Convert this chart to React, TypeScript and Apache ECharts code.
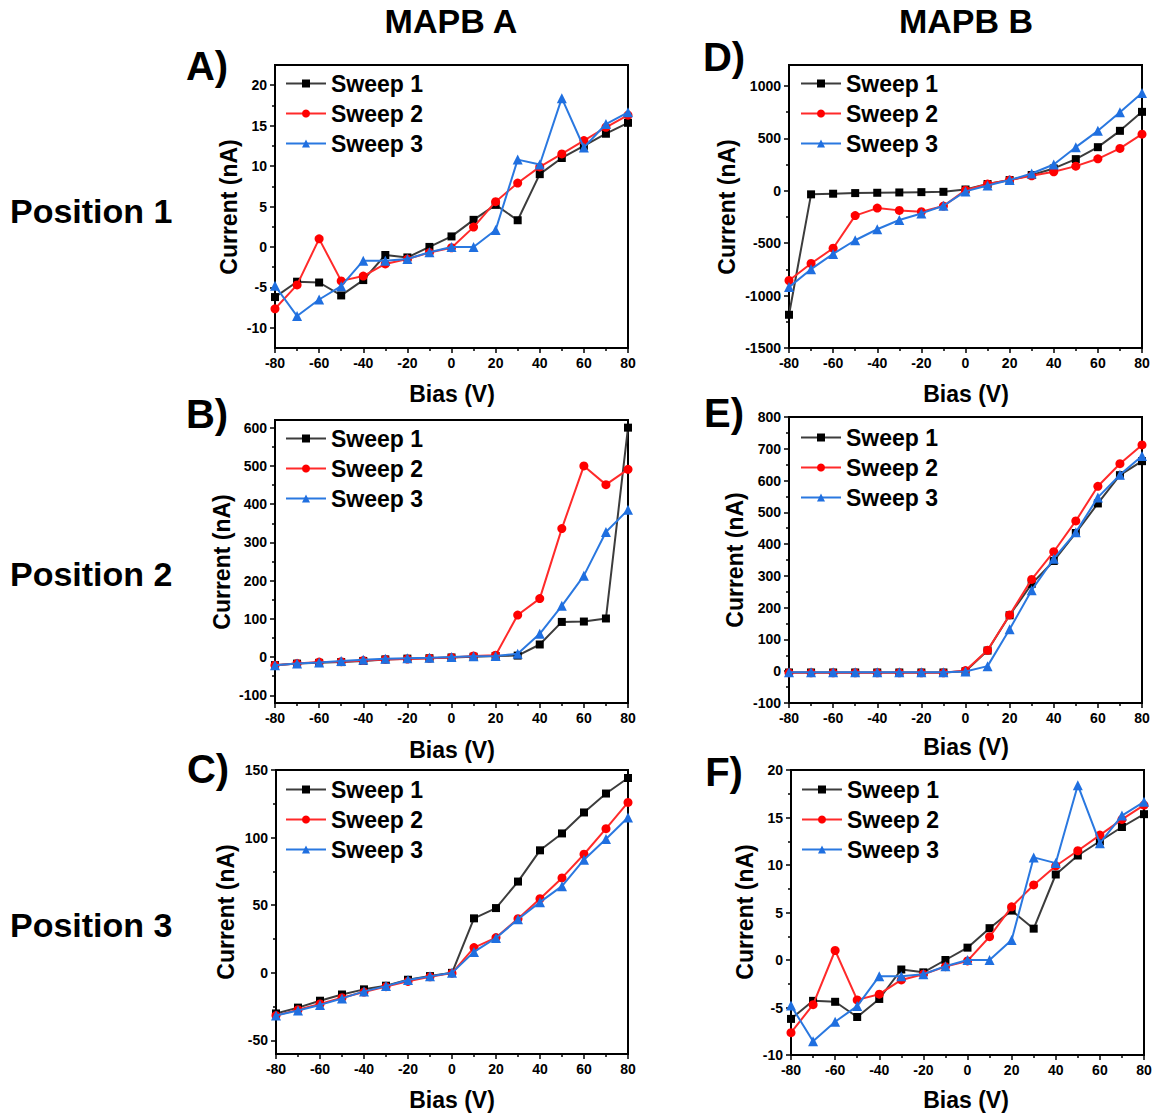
import React, { useEffect, useRef } from "react";
import * as echarts from "echarts";

const BIAS = [-80, -70, -60, -50, -40, -30, -20, -10, 0, 10, 20, 30, 40, 50, 60, 70, 80];
const SWEEP_NAMES = ["Sweep 1", "Sweep 2", "Sweep 3"];
const COLUMN_TITLES = ["MAPB A", "MAPB B"];
const ROW_TITLES = ["Position 1", "Position 2", "Position 3"];

// Panel A (MAPB A, Position 1)
const A_SWEEP1 = [-6.2, -4.3, -4.4, -6.0, -4.1, -1.0, -1.3, 0.0, 1.3, 3.35, 5.2, 3.3, 9.0, 11.0, 12.5, 14.0, 15.35];
const A_SWEEP2 = [-7.65, -4.7, 1.0, -4.2, -3.6, -2.1, -1.5, -0.7, -0.1, 2.45, 5.6, 7.9, 9.9, 11.5, 13.15, 14.8, 16.3];
const A_SWEEP3 = [-4.8, -8.55, -6.5, -4.85, -1.7, -1.7, -1.5, -0.65, 0.0, 0.0, 2.1, 10.8, 10.2, 18.4, 12.3, 15.2, 16.65];

// Panel B (MAPB A, Position 2)
const B_SWEEP1 = [-21, -17, -15, -13, -10, -6, -4, -3, -1, 1, 3, 4, 33, 92, 93, 101, 600];
const B_SWEEP2 = [-21, -17, -13, -12, -9, -6, -5, -3, -1, 3, 5, 110, 153, 336, 500, 451, 491];
const B_SWEEP3 = [-21, -17, -14, -10, -7, -4, -3, -2, 0, 2, 3, 9, 61, 134, 213, 327, 385];

// Panel C (MAPB A, Position 3)
const C_SWEEP1 = [-30, -25.7, -20.6, -16, -12.2, -9.5, -5.1, -2.4, 0, 40.3, 47.9, 67.5, 90.6, 103.1, 118.6, 132.6, 144.1];
const C_SWEEP2 = [-31.6, -27.2, -23, -18.4, -14.2, -10.2, -6.3, -2.9, -0.2, 18.7, 26.1, 40.1, 54.8, 70.2, 87.7, 106.6, 126];
const C_SWEEP3 = [-31.6, -27.9, -23.7, -18.9, -13.7, -9.8, -5.3, -2.6, 0, 15.5, 25.8, 39.6, 52.3, 64.1, 83.7, 99, 114.9];

// Panel D (MAPB B, Position 1)
const D_SWEEP1 = [-1183, -34, -28, -22, -19, -16, -13, -10, 12, 64, 102, 150, 213, 302, 416, 572, 753];
const D_SWEEP2 = [-856, -694, -548, -237, -165, -187, -200, -146, 6, 64, 102, 143, 181, 235, 305, 404, 540];
const D_SWEEP3 = [-919, -748, -602, -472, -367, -279, -216, -143, -6, 51, 102, 165, 251, 416, 572, 749, 933];

// Panel E (MAPB B, Position 2)
const E_SWEEP1 = [-4, -4, -4, -4, -4, -4, -4, -4, 0, 65, 176, 275, 347, 435, 528, 617, 661];
const E_SWEEP2 = [-5, -5, -5, -5, -5, -5, -5, -5, 2, 66, 177, 289, 376, 473, 582, 653, 712];
const E_SWEEP3 = [-3, -3, -3, -3, -3, -3, -3, -3, -1, 16, 132, 255, 354, 437, 547, 618, 677];

// Panel F (MAPB B, Position 3)
const F_SWEEP1 = [-6.2, -4.3, -4.4, -6.0, -4.1, -1.0, -1.3, 0.0, 1.3, 3.35, 5.2, 3.3, 9.0, 11.0, 12.5, 14.0, 15.35];
const F_SWEEP2 = [-7.65, -4.7, 1.0, -4.2, -3.6, -2.1, -1.5, -0.7, -0.1, 2.45, 5.6, 7.9, 9.9, 11.5, 13.15, 14.8, 16.3];
const F_SWEEP3 = [-4.8, -8.55, -6.5, -4.85, -1.7, -1.7, -1.5, -0.65, 0.0, 0.0, 2.1, 10.8, 10.2, 18.4, 12.3, 15.2, 16.65];

// y axis extents and tick ranges per panel: [plotMin, plotMax, tickMin, tickMax, tickStep]
const A_Y = [-12.5, 22.5, -10, 20, 5];
const B_Y = [-120, 620, -100, 600, 100];
const C_Y = [-60, 150, -50, 150, 50];
const D_Y = [-1500, 1200, -1500, 1000, 500];
const E_Y = [-100, 800, -100, 800, 100];
const F_Y = [-10, 20, -10, 20, 5];

const FONT = '"Liberation Sans", Arial, Helvetica, sans-serif';
const LINE_COLORS = ["#3c3c3c", "#ff2a2a", "#2a78e0"];
const MARK_COLORS = ["#000000", "#ff0000", "#1f6fe0"];
const SYMBOLS = ["rect", "circle", "triangle"];
const SYMBOL_SIZES = [8, 9, 10];

const PANELS = [
  { label: "A)", sweeps: [A_SWEEP1, A_SWEEP2, A_SWEEP3], y: A_Y, left: 275, top: 65, width: 353, height: 283,
    labelPos: [207, 66], titlePos: [229, 207], biasPos: [452, 394], legendPos: [285, 72] },
  { label: "B)", sweeps: [B_SWEEP1, B_SWEEP2, B_SWEEP3], y: B_Y, left: 275, top: 420, width: 353, height: 283,
    labelPos: [207, 414], titlePos: [222, 562], biasPos: [452, 750], legendPos: [285, 427] },
  { label: "C)", sweeps: [C_SWEEP1, C_SWEEP2, C_SWEEP3], y: C_Y, left: 276, top: 770, width: 352, height: 284,
    labelPos: [208, 769], titlePos: [226, 912], biasPos: [452, 1100], legendPos: [285, 778] },
  { label: "D)", sweeps: [D_SWEEP1, D_SWEEP2, D_SWEEP3], y: D_Y, left: 789, top: 65, width: 353, height: 283,
    labelPos: [724, 57], titlePos: [727, 207], biasPos: [966, 394], legendPos: [800, 72] },
  { label: "E)", sweeps: [E_SWEEP1, E_SWEEP2, E_SWEEP3], y: E_Y, left: 789, top: 417, width: 353, height: 286,
    labelPos: [724, 413], titlePos: [735, 560], biasPos: [966, 747], legendPos: [800, 426] },
  { label: "F)", sweeps: [F_SWEEP1, F_SWEEP2, F_SWEEP3], y: F_Y, left: 791, top: 770, width: 353, height: 285,
    labelPos: [724, 772], titlePos: [745, 912], biasPos: [966, 1100], legendPos: [801, 778] },
];

const tickLabelStyle = { fontSize: 14, fontWeight: "bold", color: "#000", fontFamily: FONT,
  formatter: (v: number) => String(v) };

function buildOption() {
  const grid: any[] = [];
  const xAxis: any[] = [];
  const yAxis: any[] = [];
  const series: any[] = [];
  const legend: any[] = [];
  const graphic: any[] = [];

  PANELS.forEach((p, i) => {
    const [pmin, pmax, tmin, tmax, step] = p.y;
    const ppu = p.height / (pmax - pmin);
    const tickTop = p.top + (pmax - tmax) * ppu;
    const tickHeight = (tmax - tmin) * ppu;

    grid.push({ left: p.left, top: p.top, width: p.width, height: p.height, show: true,
      borderColor: "#000", borderWidth: 2, backgroundColor: "transparent", containLabel: false });
    grid.push({ left: p.left, top: tickTop, width: p.width, height: tickHeight, show: false, containLabel: false });

    xAxis.push({ type: "value", gridIndex: 2 * i, min: -80, max: 80, interval: 20,
      axisLine: { show: true, onZero: false, lineStyle: { color: "#000", width: 2 } },
      axisTick: { show: true, length: 5, lineStyle: { color: "#000", width: 1.5 } },
      minorTick: { show: true, splitNumber: 2, length: 3, lineStyle: { color: "#000", width: 1.5 } },
      axisLabel: { ...tickLabelStyle, margin: 8 },
      splitLine: { show: false }, minorSplitLine: { show: false } });
    xAxis.push({ type: "value", gridIndex: 2 * i + 1, min: 0, max: 1, show: false });

    yAxis.push({ type: "value", gridIndex: 2 * i, min: pmin, max: pmax, show: false, splitLine: { show: false } });
    yAxis.push({ type: "value", gridIndex: 2 * i + 1, min: tmin, max: tmax, interval: step,
      axisLine: { show: false },
      axisTick: { show: true, length: 5, lineStyle: { color: "#000", width: 1.5 } },
      minorTick: { show: true, splitNumber: 2, length: 3, lineStyle: { color: "#000", width: 1.5 } },
      axisLabel: { ...tickLabelStyle, margin: 8 },
      splitLine: { show: false }, minorSplitLine: { show: false } });

    p.sweeps.forEach((vals, j) => {
      series.push({
        type: "line", name: SWEEP_NAMES[j], xAxisIndex: 2 * i, yAxisIndex: 2 * i,
        data: BIAS.map((b, k) => [b, vals[k]]),
        symbol: SYMBOLS[j], symbolSize: SYMBOL_SIZES[j], showAllSymbol: true,
        lineStyle: { color: LINE_COLORS[j], width: 2 },
        itemStyle: { color: MARK_COLORS[j] },
        emphasis: { disabled: true }, clip: true, z: 2 + j,
      });
    });

    legend.push({ left: p.legendPos[0], top: p.legendPos[1], orient: "vertical", itemWidth: 40, itemHeight: 10,
      itemGap: 7, selectedMode: false, data: SWEEP_NAMES, padding: 0,
      textStyle: { fontSize: 23, fontWeight: "bold", color: "#000", fontFamily: FONT } });

    graphic.push({ type: "text", x: p.labelPos[0], y: p.labelPos[1],
      style: { text: p.label, fontSize: 40, fontWeight: "bold", fontFamily: FONT, fill: "#000", align: "center", verticalAlign: "middle" } });
    graphic.push({ type: "text", x: p.titlePos[0], y: p.titlePos[1], rotation: Math.PI / 2,
      style: { text: "Current (nA)", fontSize: 23, fontWeight: "bold", fontFamily: FONT, fill: "#000", align: "center", verticalAlign: "middle" } });
    graphic.push({ type: "text", x: p.biasPos[0], y: p.biasPos[1],
      style: { text: "Bias (V)", fontSize: 23, fontWeight: "bold", fontFamily: FONT, fill: "#000", align: "center", verticalAlign: "middle" } });
  });

  [451, 966].forEach((cx, i) => {
    graphic.push({ type: "text", x: cx, y: 21,
      style: { text: COLUMN_TITLES[i], fontSize: 34, fontWeight: "bold", fontFamily: FONT, fill: "#000", align: "center", verticalAlign: "middle" } });
  });
  [211, 574, 925].forEach((cy, i) => {
    graphic.push({ type: "text", x: 10, y: cy,
      style: { text: ROW_TITLES[i], fontSize: 34, fontWeight: "bold", fontFamily: FONT, fill: "#000", align: "left", verticalAlign: "middle" } });
  });

  return { animation: false, backgroundColor: "#fff", grid, xAxis, yAxis, series, legend, graphic };
}

export default function App() {
  const ref = useRef<HTMLDivElement>(null);
  useEffect(() => {
    if (!ref.current) return;
    const chart = echarts.init(ref.current, undefined, { renderer: "svg" });
    chart.setOption(buildOption() as any);
    return () => chart.dispose();
  }, []);
  return <div ref={ref} style={{ position: "absolute", left: 0, top: 0, width: 1156, height: 1118, background: "#fff" }} />;
}
